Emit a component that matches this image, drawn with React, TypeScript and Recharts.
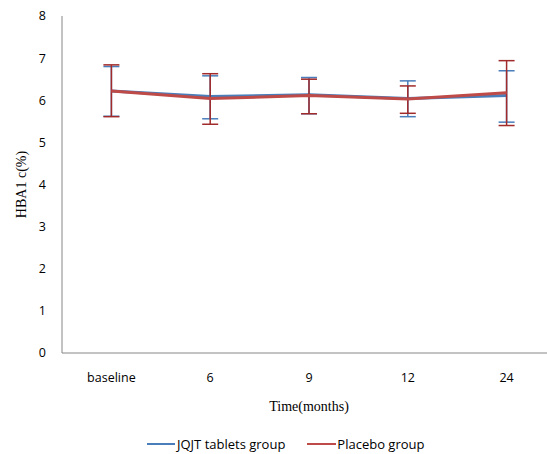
import React from 'react';
import { LineChart, Line, XAxis, YAxis, ErrorBar, Legend } from 'recharts';

const categories = ['baseline', '6', '9', '12', '24'];
const jqjtMean = [6.22, 6.09, 6.13, 6.04, 6.11];
const jqjtUpper = [6.8, 6.58, 6.54, 6.46, 6.7];
const jqjtLower = [5.62, 5.56, 5.68, 5.61, 5.48];
const placeboMean = [6.22, 6.04, 6.11, 6.03, 6.18];
const placeboUpper = [6.84, 6.63, 6.5, 6.34, 6.94];
const placeboLower = [5.61, 5.43, 5.68, 5.69, 5.4];
const yTicks = [0, 1, 2, 3, 4, 5, 6, 7, 8];

const BLUE = '#4a7ebb';
const RED = '#be4b48';
const RED_DARK = '#a12a2a';

const data = categories.map((c, i) => ({
  name: c,
  jqjt: jqjtMean[i],
  jqjtErr: [jqjtMean[i] - jqjtLower[i], jqjtUpper[i] - jqjtMean[i]],
  placebo: placeboMean[i],
  placeboErr: [placeboMean[i] - placeboLower[i], placeboUpper[i] - placeboMean[i]],
}));

const sans = 'Open Sans, Liberation Sans, sans-serif';
const serif = 'Liberation Serif, Times New Roman, serif';

const LegendContent = () => (
  <div style={{ display: 'flex', justifyContent: 'flex-start', fontFamily: sans, fontSize: 13, color: '#000', paddingTop: 26, paddingLeft: 147 }}>
    <div style={{ display: 'flex', alignItems: 'center', marginRight: 22 }}>
      <div style={{ width: 28, height: 2.5, background: BLUE, marginRight: 2 }} />
      <span>JQJT tablets group</span>
    </div>
    <div style={{ display: 'flex', alignItems: 'center' }}>
      <div style={{ width: 29, height: 2.5, background: RED, marginRight: 1 }} />
      <span>Placebo group</span>
    </div>
  </div>
);

const YLabel = (props: any) => {
  const vb = props.viewBox || {};
  const cx = 21;
  const cy = (vb.y ?? 16) + (vb.height ?? 337) / 2;
  return (
    <text x={cx} y={cy} transform={`rotate(-90 ${cx} ${cy})`} textAnchor="middle" dominantBaseline="central" fill="#000" fontSize={14} fontFamily={serif}>
      HBA1 c(%)
    </text>
  );
};

export default function App() {
  return (
    <div style={{ position: 'absolute', left: 0, top: 0, background: '#fff', width: 547, height: 454, overflow: 'hidden' }}>
      <LineChart width={547} height={454} data={data} margin={{ top: 16, right: -9, bottom: 0, left: 0 }}>
        <XAxis
          dataKey="name"
          axisLine={{ stroke: '#868686' }}
          tickLine={false}
          tickSize={0}
          tickMargin={20}
          height={60}
          padding={{ left: 49.4, right: 49.4 }}
          tick={{ fill: '#000', fontSize: 12.5, fontFamily: sans }}
          label={{ value: 'Time(months)', position: 'insideBottom', offset: 2, fill: '#000', fontSize: 14, fontFamily: serif }}
        />
        <YAxis
          domain={[0, 8]}
          ticks={yTicks}
          width={62}
          axisLine={{ stroke: '#868686' }}
          tickLine={false}
          tickSize={0}
          tickMargin={16}
          tick={{ fill: '#000', fontSize: 12.5, fontFamily: sans }}
          label={<YLabel />}
        />
        <Legend verticalAlign="bottom" height={41} content={<LegendContent />} wrapperStyle={{ bottom: 4, left: 0 }} />
        <Line type="linear" dataKey="jqjt" name="JQJT tablets group" stroke={BLUE} strokeWidth={3} dot={false} isAnimationActive={false}>
          <ErrorBar dataKey="jqjtErr" width={8} stroke={BLUE} strokeWidth={1.5} />
        </Line>
        <Line type="linear" dataKey="placebo" name="Placebo group" stroke={RED} strokeWidth={3} dot={false} isAnimationActive={false}>
          <ErrorBar dataKey="placeboErr" width={8} stroke={RED_DARK} strokeWidth={1.5} />
        </Line>
      </LineChart>
    </div>
  );
}
